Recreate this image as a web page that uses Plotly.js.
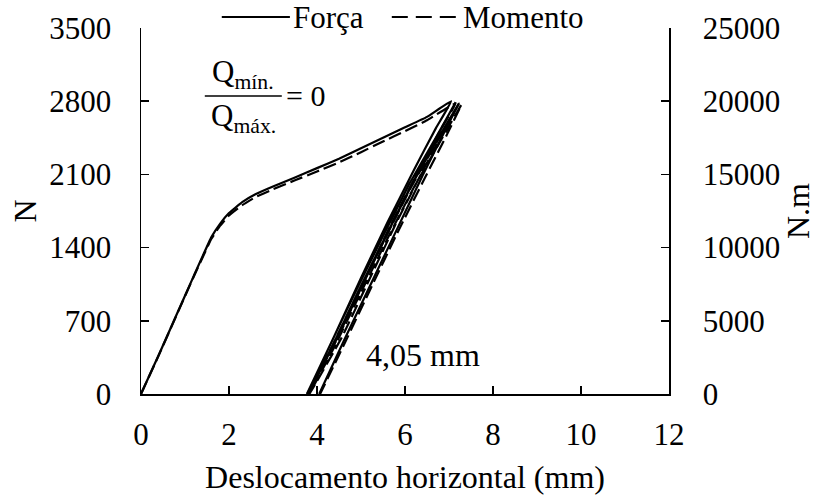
<!DOCTYPE html>
<html>
<head>
<meta charset="utf-8">
<script src="https://cdn.plot.ly/plotly-3.0.1.min.js"></script>
<style>html,body{margin:0;padding:0;background:#fff;}#chart{width:817px;height:495px;}</style>
</head>
<body>
<div id="chart"></div>
<script>
// Força (N) vs deslocamento horizontal (mm)
const forcaX = [0,0.4,0.8,1.2,1.6,1.8,2.0,2.3,2.6,3.0,3.5,4.0,4.5,5.0,5.5,6.0,6.5,7.05,
  6.7,6.2,5.6,5.0,4.4,3.77,
  4.3,4.9,5.5,6.1,6.7,7.15,
  6.8,6.3,5.7,5.1,4.5,3.80,
  4.35,4.95,5.55,6.15,6.75,7.22,
  6.9,6.4,5.8,5.2,4.6,4.05];
const forcaY = [0,370,750,1130,1500,1630,1730,1835,1910,1985,2070,2160,2250,2350,2450,2550,2650,2800,
  2540,2140,1640,1110,560,0,
  470,1000,1510,2010,2450,2790,
  2520,2120,1620,1100,570,0,
  460,990,1500,2000,2440,2780,
  2510,2090,1560,1030,500,0];
// Momento (N.m) vs deslocamento horizontal (mm)
const momentoX = [0,0.4,0.8,1.2,1.6,1.8,2.0,2.3,2.6,3.0,3.5,4.0,4.5,5.0,5.5,6.0,6.5,7.15,
  6.8,6.3,5.7,5.1,4.5,3.78,
  4.35,4.95,5.55,6.15,6.75,7.22,
  6.87,6.37,5.77,5.17,4.57,3.83,
  4.4,5.0,5.6,6.2,6.8,7.28,
  6.95,6.45,5.85,5.25,4.65,4.07];
const momentoY = [0,2620,5330,8030,10600,11500,12200,12900,13450,13980,14600,15200,15820,16520,17250,17950,18700,19850,
  18000,15200,11700,7900,4000,0,
  3300,7000,10650,14200,17350,19800,
  17900,15050,11500,7700,3900,0,
  3250,6950,10600,14100,17250,19750,
  17700,14750,11150,7400,3600,0];
const xTicks = [0,2,4,6,8,10,12];
const yTicks = [0,700,1400,2100,2800,3500];
const y2Ticks = [0,5000,10000,15000,20000,25000];

const FONT = "Liberation Serif, Times New Roman, serif";
const FS = 31;

const traces = [
  {x: forcaX, y: forcaY, name: "Força", type: "scatter", mode: "lines",
   line: {color: "#000", width: 2.2, shape: "spline", smoothing: 0.3}, yaxis: "y", showlegend: false},
  {x: momentoX, y: momentoY, name: "Momento", type: "scatter", mode: "lines",
   line: {color: "#000", width: 2.2, dash: "13px,5px", shape: "spline", smoothing: 0.3}, yaxis: "y2", showlegend: false}
];

const axisCommon = {
  showgrid: false, zeroline: false, showline: true, linecolor: "#000", linewidth: 1.5,
  ticks: "inside", ticklen: 8, tickwidth: 1.5, tickcolor: "#000", tickformat: "d",
  tickfont: {family: FONT, size: FS, color: "#000"}
};

const layout = {
  width: 817, height: 495,
  margin: {l: 141, r: 148, t: 28, b: 101},
  paper_bgcolor: "#fff", plot_bgcolor: "#fff",
  font: {family: FONT, color: "#000"},
  xaxis: Object.assign({}, axisCommon, {
    range: [0, 12], tickvals: xTicks, ticklabelstandoff: 12,
    title: {text: "Deslocamento horizontal (mm)", font: {family: FONT, size: 32, color: "#000"}, standoff: 16}
  }),
  yaxis: Object.assign({}, axisCommon, {
    range: [0, 3500], tickvals: yTicks, ticklabelstandoff: 22,
    title: {text: "N", font: {family: FONT, size: 32, color: "#000"}, standoff: 3}
  }),
  yaxis2: Object.assign({}, axisCommon, {
    range: [0, 25000], tickvals: y2Ticks, overlaying: "y", side: "right", ticklabelstandoff: 26,
    title: {text: "N.m", font: {family: FONT, size: 32, color: "#000"}, standoff: 6}
  }),
  shapes: [
    {type: "line", xref: "paper", yref: "paper", x0: 0.153, x1: 0.282, y0: 1.03, y1: 1.03,
     line: {color: "#000", width: 2.2}},
    {type: "line", xref: "paper", yref: "paper", x0: 0.475, x1: 0.604, y0: 1.03, y1: 1.03,
     line: {color: "#000", width: 2.2, dash: "16px,8px"}},
    {type: "line", xref: "x", yref: "y", x0: 1.45, x1: 3.2, y0: 2850, y1: 2850,
     line: {color: "#000", width: 1.5}}
  ],
  annotations: [
    {xref: "paper", yref: "paper", x: 0.284, y: 1.03, xanchor: "left", yanchor: "middle",
     text: "Força", showarrow: false, font: {family: FONT, size: FS, color: "#000"}},
    {xref: "paper", yref: "paper", x: 0.606, y: 1.03, xanchor: "left", yanchor: "middle",
     text: "Momento", showarrow: false, font: {family: FONT, size: FS, color: "#000"}},
    {xref: "x", yref: "y", x: 2.32, y: 2850, xanchor: "center", yanchor: "bottom",
     text: "Q<sub>mín.</sub>", showarrow: false, font: {family: FONT, size: 31, color: "#000"}},
    {xref: "x", yref: "y", x: 2.32, y: 2850, xanchor: "center", yanchor: "top",
     text: "Q<sub>máx.</sub>", showarrow: false, font: {family: FONT, size: 31, color: "#000"}},
    {xref: "x", yref: "y", x: 3.25, y: 2850, xanchor: "left", yanchor: "middle",
     text: "= 0", showarrow: false, font: {family: FONT, size: 30, color: "#000"}},
    {xref: "x", yref: "y", x: 6.4, y: 375, xanchor: "center", yanchor: "middle",
     text: "4,05 mm", showarrow: false, font: {family: FONT, size: 32, color: "#000"}}
  ]
};

Plotly.newPlot("chart", traces, layout, {displayModeBar: false, staticPlot: true});
</script>
</body>
</html>
